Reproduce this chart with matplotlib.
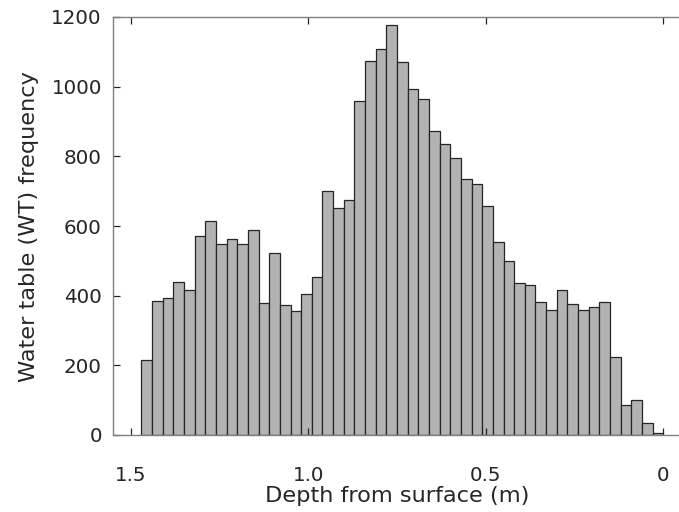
import numpy as np
import matplotlib.pyplot as plt

plt.rcParams['font.family'] = ['DejaVu Sans']

# bin edges (depth, m) and counts, deepest bin first
bin_width = 0.03
bin_start = 1.47
counts = [215, 385, 394, 439, 416, 571, 614, 547, 564, 549,
          588, 378, 522, 372, 355, 405, 455, 700, 651, 676,
          960, 1074, 1108, 1176, 1070, 992, 965, 873, 835, 794,
          735, 721, 657, 554, 499, 435, 432, 381, 359, 417,
          377, 360, 367, 383, 225, 86, 100, 34, 5]
xticks = [1.5, 1.0, 0.5, 0]
xticklabels = ['1.5', '1.0', '0.5', '0']
yticks = [0, 200, 400, 600, 800, 1000, 1200]

left_edges = bin_start - bin_width * np.arange(len(counts))

fig = plt.figure(figsize=(6.79, 5.12), dpi=100)
ax = fig.add_axes([113 / 679, 1 - 435 / 512, 568 / 679, 418 / 512])

ax.bar(left_edges, counts, width=-bin_width, align='edge',
       color='#b3b3b3', edgecolor='#262626', linewidth=0.9)

ax.set_xlim(1.55, -0.05)
ax.set_ylim(0, 1200)
ax.set_xticks(xticks)
ax.set_xticklabels(xticklabels)
ax.set_yticks(yticks)

for s in ax.spines.values():
    s.set_color('#808080')
    s.set_linewidth(1.0)

ax.tick_params(axis='both', direction='in', length=5, width=0.9,
               color='#262626', labelsize=14.3, labelcolor='#262626',
               top=True, right=False)
ax.tick_params(axis='x', pad=22)
ax.tick_params(axis='y', pad=8)

ax.set_xlabel('Depth from surface (m)', fontsize=16.2, color='#262626', labelpad=1)
ax.set_ylabel('Water table (WT) frequency', fontsize=16.2, color='#262626', labelpad=9)

fig.savefig('out.png', dpi=100)
